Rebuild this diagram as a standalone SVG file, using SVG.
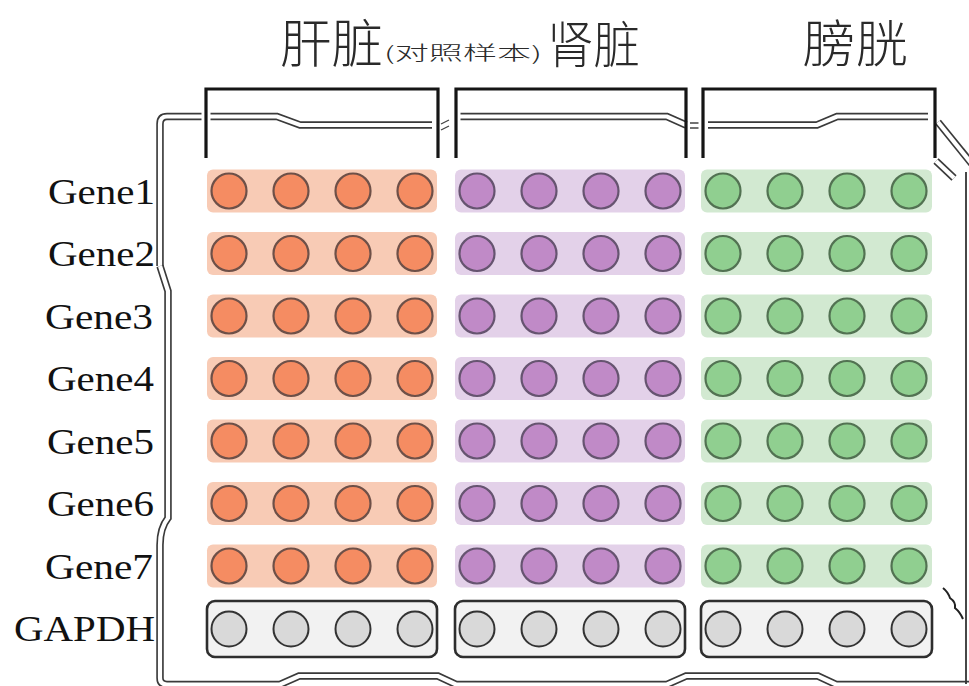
<svg xmlns="http://www.w3.org/2000/svg" width="969" height="686" viewBox="0 0 969 686">
<defs>
<style>
.title{font-family:"Noto Sans CJK SC","Noto Sans",sans-serif;fill:#2a2a2a;font-weight:300}
.gl{font-family:"Liberation Serif","Times New Roman",serif;font-size:36px;fill:#111}
.dl{fill:none;stroke:#3a3a3a;stroke-width:7.5}
.dw{fill:none;stroke:#fff;stroke-width:4.2}
.br{fill:none;stroke:#151515;stroke-width:3.2}
.bo{fill:#f8cbb5}.po{fill:#e3d1e9}.go{fill:#d2e9d1}
.co{fill:#f58c62;stroke:#6e5048;stroke-width:2.2}
.cp{fill:#c08ac7;stroke:#665470;stroke-width:2.2}
.cg{fill:#90cf90;stroke:#527252;stroke-width:2.2}
.gb{fill:#f2f2f2;stroke:#2e2e2e;stroke-width:2.6}
.cx{fill:#d9d9d9;stroke:#333;stroke-width:2}
</style>
<g id="ro"><rect class="bo" x="207" y="-21.5" width="230" height="43" rx="6"/><circle class="co" cx="229" cy="0" r="17.5"/><circle class="co" cx="291" cy="0" r="17.5"/><circle class="co" cx="353" cy="0" r="17.5"/><circle class="co" cx="415" cy="0" r="17.5"/></g>
<g id="rp"><rect class="po" x="455" y="-21.5" width="230" height="43" rx="6"/><circle class="cp" cx="477" cy="0" r="17.5"/><circle class="cp" cx="539" cy="0" r="17.5"/><circle class="cp" cx="601" cy="0" r="17.5"/><circle class="cp" cx="663" cy="0" r="17.5"/></g>
<g id="rg"><rect class="go" x="701" y="-21.5" width="231" height="43" rx="6"/><circle class="cg" cx="723" cy="0" r="17.5"/><circle class="cg" cx="785" cy="0" r="17.5"/><circle class="cg" cx="847" cy="0" r="17.5"/><circle class="cg" cx="909" cy="0" r="17.5"/></g>
</defs>
<rect width="969" height="686" fill="#fff"/>

<g id="plate-outline">
<path class="dl" d="M160,266 L160,124 Q160,116.5 167,116.5 L277,116.5 L300,125 L432,125"/>
<path class="dw" d="M160,266 L160,124 Q160,116.5 167,116.5 L277,116.5 L300,125 L432,125"/>
<path class="dl" d="M459,116.5 L667,116.5 L686,125"/>
<path class="dw" d="M459,116.5 L667,116.5 L686,125"/>
<path class="dl" d="M708,125 L817,125 L837,116.5 L928,116.5"/>
<path class="dw" d="M708,125 L817,125 L837,116.5 L928,116.5"/>
<path class="dl" d="M160,266 L168,291 L168,518 Q160,528 160,545 L160,678 Q160,684.5 167,684.5 L280,684.5 L299,676 L438,676 L456,684.5 L667,684.5 L686,676 L818,676 L836,684.5 L969,684.5"/>
<path class="dw" d="M160,266 L168,291 L168,518 Q160,528 160,545 L160,678 Q160,684.5 167,684.5 L280,684.5 L299,676 L438,676 L456,684.5 L667,684.5 L686,676 L818,676 L836,684.5 L969,684.5"/>
<path class="dl" d="M938,122 L972,164"/>
<path class="dw" d="M938,122 L972,164"/>
<path class="dl" d="M936,161 L954,178"/>
<path class="dw" d="M936,161 L954,178"/>
<path d="M966,172 L966,684" fill="none" stroke="#333" stroke-width="1.8"/>
<path d="M943,588 Q948,592 950,598 Q956,602 955,608 Q960,612 963,619" fill="none" stroke="#222" stroke-width="2"/>
<path d="M441,124 L449,120 M441,130 L449,126" fill="none" stroke="#444" stroke-width="1.3"/>
<path d="M690,123 L699,123 M690,128 L699,128" fill="none" stroke="#444" stroke-width="1.3"/>
</g>

<g id="brackets">
<path d="M206,90 L206,158 M456,90 L456,158 M703,90 L703,158" fill="none" stroke="#fff" stroke-width="9"/>
<path class="br" d="M206,158 L206,89 L438,89 L438,158"/>
<path class="br" d="M456,158 L456,89 L686,89 L686,158"/>
<path class="br" d="M703,158 L703,89 L935,89 L935,158"/>
</g>

<g id="titles">
<text class="title" x="280" y="63" font-size="52" textLength="103" lengthAdjust="spacingAndGlyphs">肝脏</text>
<text class="title" x="384" y="60" font-size="19" textLength="158" lengthAdjust="spacingAndGlyphs">(对照样本)</text>
<text class="title" x="547" y="63" font-size="50" textLength="93" lengthAdjust="spacingAndGlyphs">肾脏</text>
<text class="title" x="803" y="62" font-size="50" textLength="105" lengthAdjust="spacingAndGlyphs">膀胱</text>
</g>

<g id="labels">
<text class="gl" x="48" y="204" textLength="107" lengthAdjust="spacingAndGlyphs">Gene1</text>
<text class="gl" x="48" y="266" textLength="107" lengthAdjust="spacingAndGlyphs">Gene2</text>
<text class="gl" x="45" y="329" textLength="108" lengthAdjust="spacingAndGlyphs">Gene3</text>
<text class="gl" x="47" y="391" textLength="107" lengthAdjust="spacingAndGlyphs">Gene4</text>
<text class="gl" x="47" y="454" textLength="107" lengthAdjust="spacingAndGlyphs">Gene5</text>
<text class="gl" x="47" y="516" textLength="107" lengthAdjust="spacingAndGlyphs">Gene6</text>
<text class="gl" x="45" y="579" textLength="108" lengthAdjust="spacingAndGlyphs">Gene7</text>
<text class="gl" x="14" y="641" textLength="141" lengthAdjust="spacingAndGlyphs">GAPDH</text>
</g>

<g id="gene1"><use href="#ro" y="191"/><use href="#rp" y="191"/><use href="#rg" y="191"/></g>
<g id="gene2"><use href="#ro" y="253.5"/><use href="#rp" y="253.5"/><use href="#rg" y="253.5"/></g>
<g id="gene3"><use href="#ro" y="316"/><use href="#rp" y="316"/><use href="#rg" y="316"/></g>
<g id="gene4"><use href="#ro" y="378.5"/><use href="#rp" y="378.5"/><use href="#rg" y="378.5"/></g>
<g id="gene5"><use href="#ro" y="441"/><use href="#rp" y="441"/><use href="#rg" y="441"/></g>
<g id="gene6"><use href="#ro" y="503.5"/><use href="#rp" y="503.5"/><use href="#rg" y="503.5"/></g>
<g id="gene7"><use href="#ro" y="566"/><use href="#rp" y="566"/><use href="#rg" y="566"/></g>

<g id="gapdh">
<rect class="gb" x="207" y="601" width="230" height="56" rx="8"/>
<circle class="cx" cx="229" cy="629" r="17.5"/><circle class="cx" cx="291" cy="629" r="17.5"/><circle class="cx" cx="353" cy="629" r="17.5"/><circle class="cx" cx="415" cy="629" r="17.5"/>
<rect class="gb" x="455" y="601" width="230" height="56" rx="8"/>
<circle class="cx" cx="477" cy="629" r="17.5"/><circle class="cx" cx="539" cy="629" r="17.5"/><circle class="cx" cx="601" cy="629" r="17.5"/><circle class="cx" cx="663" cy="629" r="17.5"/>
<rect class="gb" x="701" y="601" width="231" height="56" rx="8"/>
<circle class="cx" cx="723" cy="629" r="17.5"/><circle class="cx" cx="785" cy="629" r="17.5"/><circle class="cx" cx="847" cy="629" r="17.5"/><circle class="cx" cx="909" cy="629" r="17.5"/>
</g>
</svg>
